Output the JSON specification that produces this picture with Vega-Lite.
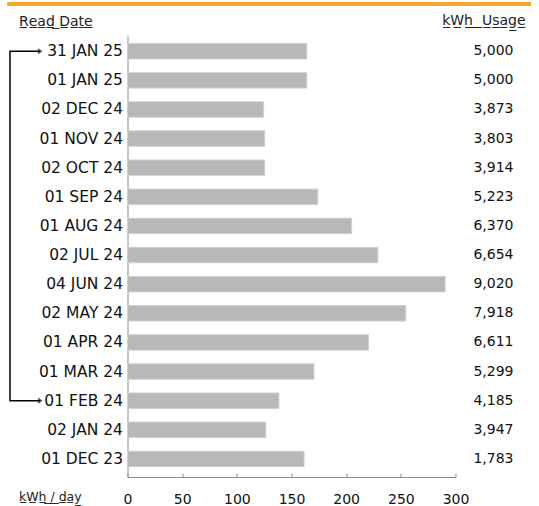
{
  "$schema": "https://vega.github.io/schema/vega-lite/v6.json",
  "autosize": "none",
  "width": 328,
  "height": 441,
  "padding": {"left": 127.5, "top": 36, "right": 83.5, "bottom": 29},
  "background": "white",
  "config": {"view": {"stroke": null}, "font": "DejaVu Sans"},
  "title": {
    "text": "k̲W̲h̲ ̲ ̲U̲s̲a̲g̲e̲",
    "anchor": "end",
    "frame": "group",
    "dx": 70,
    "offset": -36.5,
    "font": "DejaVu Sans",
    "fontSize": 14,
    "fontWeight": "normal",
    "color": "#222222",
    "baseline": "alphabetic"
  },
  "data": {
    "values": [
      {"date": "31 JAN 25", "kwhday": 164, "usage": "5,000"},
      {"date": "01 JAN 25", "kwhday": 164, "usage": "5,000"},
      {"date": "02 DEC 24", "kwhday": 124.5, "usage": "3,873"},
      {"date": "01 NOV 24", "kwhday": 125.5, "usage": "3,803"},
      {"date": "02 OCT 24", "kwhday": 125.5, "usage": "3,914"},
      {"date": "01 SEP 24", "kwhday": 174, "usage": "5,223"},
      {"date": "01 AUG 24", "kwhday": 205, "usage": "6,370"},
      {"date": "02 JUL 24", "kwhday": 229, "usage": "6,654"},
      {"date": "04 JUN 24", "kwhday": 290.5, "usage": "9,020"},
      {"date": "02 MAY 24", "kwhday": 254.5, "usage": "7,918"},
      {"date": "01 APR 24", "kwhday": 220.5, "usage": "6,611"},
      {"date": "01 MAR 24", "kwhday": 170.5, "usage": "5,299"},
      {"date": "01 FEB 24", "kwhday": 138.5, "usage": "4,185"},
      {"date": "02 JAN 24", "kwhday": 126.5, "usage": "3,947"},
      {"date": "01 DEC 23", "kwhday": 161.5, "usage": "1,783"}
    ]
  },
  "encoding": {
    "y": {
      "field": "date",
      "type": "nominal",
      "scale": {
        "domain": ["31 JAN 25", "01 JAN 25", "02 DEC 24", "01 NOV 24", "02 OCT 24", "01 SEP 24", "01 AUG 24", "02 JUL 24", "04 JUN 24", "02 MAY 24", "01 APR 24", "01 MAR 24", "01 FEB 24", "02 JAN 24", "01 DEC 23"],
        "paddingInner": 0.47,
        "paddingOuter": 0.307,
        "align": 0.42
      },
      "axis": {
        "title": "R̲e̲a̲d̲ ̲D̲a̲t̲e̲",
        "titleAngle": 0,
        "titleAlign": "left",
        "titleBaseline": "alphabetic",
        "titleX": -109,
        "titleY": -11,
        "titleFont": "DejaVu Sans",
        "titleFontSize": 14,
        "titleFontWeight": "normal",
        "titleColor": "#222222",
        "ticks": false,
        "domainColor": "#8c8c8c",
        "domainWidth": 1,
        "labelFont": "DejaVu Sans",
        "labelFontSize": 15.5,
        "labelColor": "#111111",
        "labelPadding": 5
      }
    }
  },
  "layer": [
    {
      "mark": {"type": "bar", "fill": "#b8b8b8", "stroke": "#d0d0d0", "strokeWidth": 1},
      "encoding": {
        "x": {
          "field": "kwhday",
          "type": "quantitative",
          "scale": {"domain": [0, 300], "nice": false},
          "axis": {
            "values": [0, 50, 100, 150, 200, 250, 300],
            "grid": false,
            "labelFlush": false,
            "title": "k̲W̲h̲ ̲/̲ ̲d̲a̲y̲",
            "titleAlign": "left",
            "titleBaseline": "alphabetic",
            "titleX": -109,
            "titleY": 23,
            "titleFont": "DejaVu Sans",
            "titleFontSize": 12.5,
            "titleFontWeight": "normal",
            "titleColor": "#222222",
            "domainColor": "#8c8c8c",
            "tickColor": "#8c8c8c",
            "tickSize": -4,
            "labelFont": "DejaVu Sans",
            "labelFontSize": 14,
            "labelColor": "#111111",
            "labelPadding": 19
          }
        }
      }
    },
    {
      "mark": {"type": "text", "align": "right", "baseline": "middle", "dx": 58, "font": "DejaVu Sans", "fontSize": 14, "color": "#111111"},
      "encoding": {
        "x": {"datum": 300},
        "text": {"field": "usage"}
      }
    },
    {
      "data": {"values": [
        {"bx": -80, "date": "31 JAN 25", "o": 1},
        {"bx": -107.5, "date": "31 JAN 25", "o": 2},
        {"bx": -107.5, "date": "01 FEB 24", "o": 3},
        {"bx": -80, "date": "01 FEB 24", "o": 4}
      ]},
      "mark": {"type": "line", "color": "#000000", "strokeWidth": 1.5, "interpolate": "linear"},
      "encoding": {
        "x": {"field": "bx", "type": "quantitative"},
        "order": {"field": "o"}
      }
    },
    {
      "data": {"values": [
        {"bx": -79, "date": "31 JAN 25"},
        {"bx": -79, "date": "01 FEB 24"}
      ]},
      "mark": {"type": "point", "shape": "M-1,-0.7L0,0L-1,0.7", "filled": false, "stroke": "#000000", "strokeWidth": 1.5, "size": 40},
      "encoding": {
        "x": {"field": "bx", "type": "quantitative"}
      }
    },
    {
      "mark": {"type": "rule", "color": "#f5a52a", "strokeWidth": 2.5},
      "encoding": {
        "x": {"datum": -109.5},
        "x2": {"datum": 369},
        "y": {"value": -32}
      }
    }
  ]
}
